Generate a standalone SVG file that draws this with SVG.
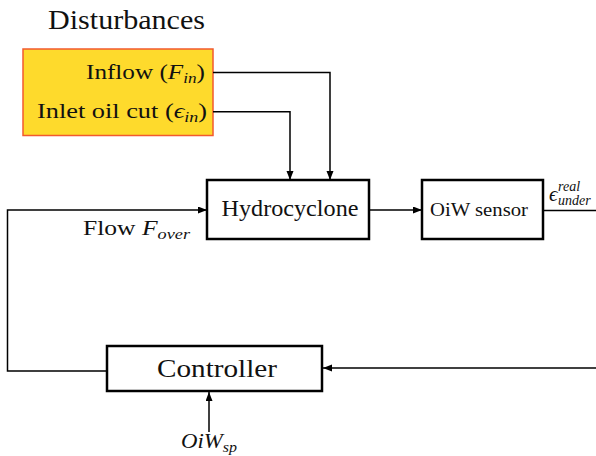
<svg xmlns="http://www.w3.org/2000/svg" width="596" height="456" viewBox="0 0 596 456">
<defs>
<marker id="ah" markerUnits="userSpaceOnUse" markerWidth="10" markerHeight="8" refX="9" refY="3.5" orient="auto">
<path d="M0,0 L9,3.5 L0,7 z" fill="#000"/>
</marker>
<style>
text{font-family:'Liberation Serif','Times New Roman','DejaVu Serif','Noto Serif',serif;fill:#111}
.i{font-style:italic}
.box{fill:#fff;stroke:#000;stroke-width:2.5}
.c{fill:none;stroke:#000;stroke-width:1.5}
</style>
</defs>
<rect width="596" height="456" fill="#fff"/>
<text x="48" y="29" font-size="28" textLength="157" lengthAdjust="spacingAndGlyphs">Disturbances</text>
<g id="disturbances">
<rect x="23" y="49" width="190" height="86.5" fill="#FEDA2C" stroke="#F25A2E" stroke-width="1.5"/>
<text x="205" y="79" font-size="22" text-anchor="end" textLength="119" lengthAdjust="spacingAndGlyphs">Inflow (<tspan class="i">F</tspan><tspan class="i" font-size="15" dy="4">in</tspan><tspan dy="-4">)</tspan></text>
<text x="207" y="118" font-size="22" text-anchor="end" textLength="170" lengthAdjust="spacingAndGlyphs">Inlet oil cut (<tspan class="i">ϵ</tspan><tspan class="i" font-size="15" dy="4">in</tspan><tspan dy="-4">)</tspan></text>
</g>
<g id="hydrocyclone">
<rect class="box" x="207" y="180" width="162" height="59"/>
<text x="290" y="216" font-size="23" text-anchor="middle" textLength="137" lengthAdjust="spacingAndGlyphs">Hydrocyclone</text>
</g>
<g id="oiw-sensor">
<rect class="box" x="422" y="180" width="121" height="59"/>
<text x="479" y="216" font-size="18" text-anchor="middle" textLength="98" lengthAdjust="spacingAndGlyphs">OiW sensor</text>
</g>
<g id="controller">
<rect class="box" x="107" y="346" width="215" height="45"/>
<text x="217" y="377" font-size="26" text-anchor="middle" textLength="120" lengthAdjust="spacingAndGlyphs">Controller</text>
</g>
<g id="connectors">
<path class="c" d="M213,72.5 H330 V180" marker-end="url(#ah)"/>
<path class="c" d="M213,111.7 H290 V180" marker-end="url(#ah)"/>
<path class="c" d="M107,371 H7.5 V210 H207" marker-end="url(#ah)"/>
<path class="c" d="M369,210 H422" marker-end="url(#ah)"/>
<path class="c" d="M543,210.5 H596"/>
<path class="c" d="M596,368 H323" marker-end="url(#ah)"/>
<path class="c" d="M209,432 V392" marker-end="url(#ah)"/>
</g>
<g id="labels">
<text x="83" y="235" font-size="21" textLength="107" lengthAdjust="spacingAndGlyphs">Flow <tspan class="i">F</tspan><tspan class="i" font-size="15" dy="4">over</tspan></text>
<text x="549" y="201" font-size="21"><tspan class="i">ϵ</tspan><tspan class="i" font-size="14" x="558" y="191">real</tspan><tspan class="i" font-size="14" x="558" y="205">under</tspan></text>
<text x="209" y="448" font-size="20" text-anchor="middle" textLength="56" lengthAdjust="spacingAndGlyphs"><tspan class="i">OiW</tspan><tspan class="i" font-size="14" dy="4">sp</tspan></text>
</g>
</svg>
